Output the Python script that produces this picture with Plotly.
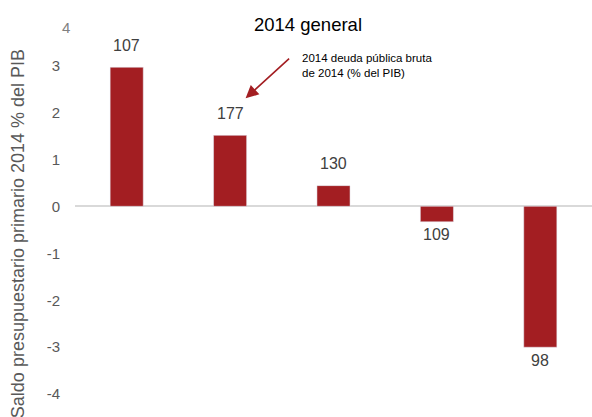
import plotly.graph_objects as go

categories = ["A", "B", "C", "D", "E"]
saldo_primario = [2.96, 1.51, 0.44, -0.33, -3.0]
deuda_bruta = ["107", "177", "130", "109", "98"]
y_ticks = [-4, -3, -2, -1, 0, 1, 2, 3]
y_tick_labels = ["-4", "-3", "-2", "-1", "0", "1", "2", "3"]

bar_color = "#A31E22"
tick_color = "#595959"
font_family = "Liberation Sans, Arial, sans-serif"

fig = go.Figure()
fig.add_trace(go.Bar(
    x=categories, y=saldo_primario, marker_color=bar_color, width=0.32,
    hoverinfo="skip",
))

annotations = []
for c, v, t in zip(categories, saldo_primario, deuda_bruta):
    annotations.append(dict(
        x=c, y=v, text=t, showarrow=False,
        yshift=22 if v >= 0 else -13,
        font=dict(size=16, color="#404040", family=font_family),
    ))

# arrow pointing at the 2nd bar's label
annotations.append(dict(
    x=1.15, y=2.30, xref="x", yref="y", text="", showarrow=True,
    ax=45, ay=-41, arrowhead=2, arrowsize=1.6, arrowwidth=1.6,
    arrowcolor=bar_color,
))
annotations.append(dict(
    x=1.68, y=3.0, xref="x", yref="y", xanchor="left", yanchor="middle",
    align="left", showarrow=False,
    text="2014 deuda pública bruta<br>de 2014 (% del PIB)",
    font=dict(size=11.5, color="#000000", family=font_family),
))
# detached top tick label
annotations.append(dict(
    x=-0.006, y=3.8, xref="paper", yref="y", xanchor="right", yanchor="middle",
    showarrow=False, text="4",
    font=dict(size=15, color="#808080", family=font_family),
))
# y-axis title
annotations.append(dict(
    x=-0.110, y=0.443, xref="paper", yref="paper", xanchor="center",
    yanchor="middle", textangle=-90, showarrow=False,
    text="Saldo presupuestario primario 2014 % del PIB",
    font=dict(size=18, color=tick_color, family=font_family),
))

fig.update_layout(
    width=592, height=417,
    margin=dict(l=75, r=0, t=9, b=4),
    paper_bgcolor="white", plot_bgcolor="white",
    showlegend=False,
    font=dict(family=font_family),
    title=dict(
        text="2014 general", x=(308 - 75) / 517, xref="paper", xanchor="center",
        y=1 - 25 / 417, yref="container", yanchor="middle",
        font=dict(size=18.5, color="#000000", family=font_family),
    ),
    xaxis=dict(
        range=[-0.5, 4.5], showticklabels=False, showgrid=False,
        zeroline=False, showline=False, ticks="",
    ),
    yaxis=dict(
        range=[-4.4, 4.2], tickvals=y_ticks, ticktext=y_tick_labels,
        showgrid=False,
        zeroline=True, zerolinecolor="#D9D9D9", zerolinewidth=2,
        showline=False, ticks="", ticklabelstandoff=14,
        tickfont=dict(size=15, color=tick_color, family=font_family),
    ),
    annotations=annotations,
)

fig.write_html("out.html")
